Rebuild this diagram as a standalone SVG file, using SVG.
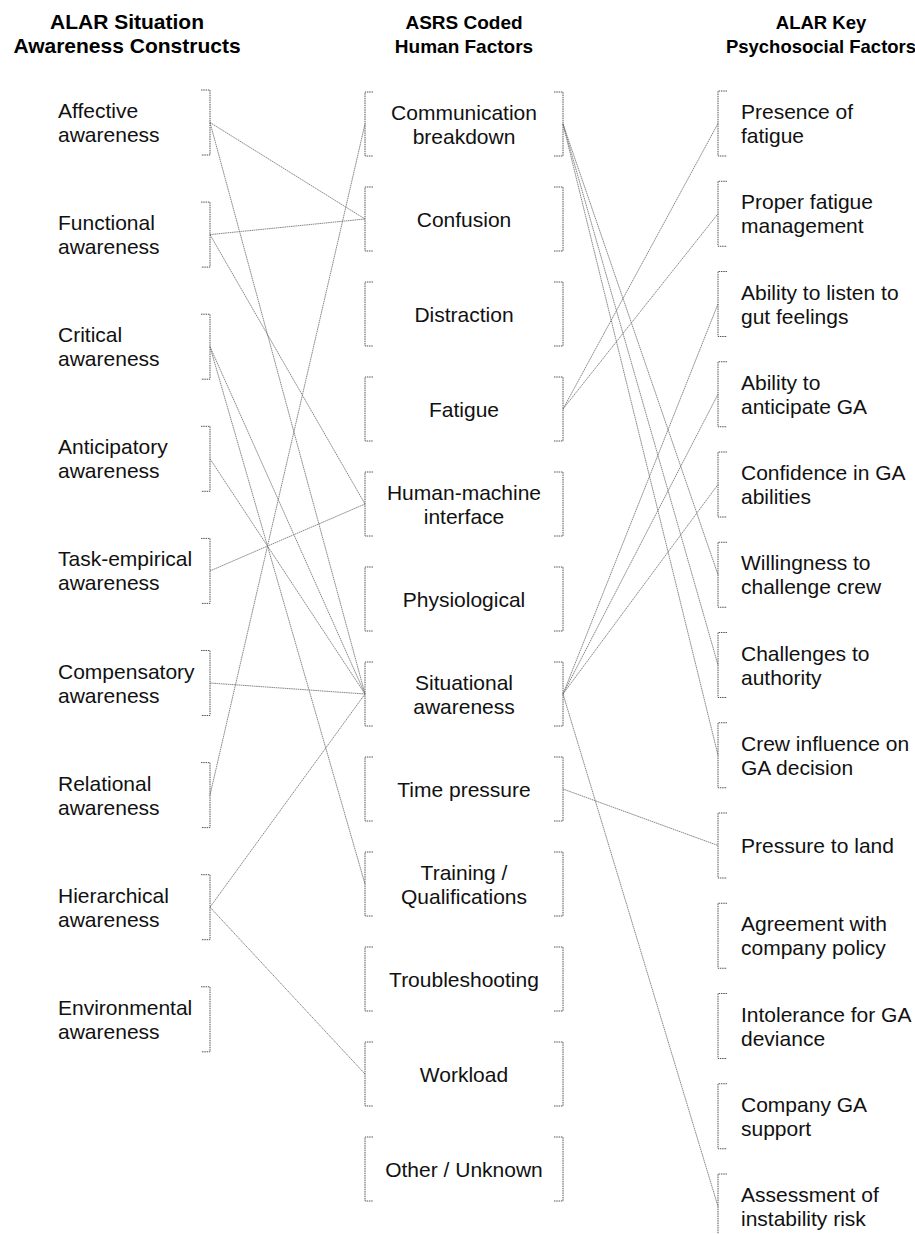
<svg xmlns="http://www.w3.org/2000/svg" width="915" height="1234" viewBox="0 0 915 1234">
<style>
  .hd{font-family:"Liberation Sans",Arial,sans-serif;font-weight:bold;fill:#000;text-anchor:middle}
  .t{font-family:"Liberation Sans",Arial,sans-serif;font-size:21px;fill:#111}
  .c{text-anchor:middle}
  .br{fill:none;stroke:#555;stroke-width:1;stroke-dasharray:1.5 0.8}
  .cn{fill:none;stroke:#7a7a7a;stroke-width:0.9;stroke-dasharray:1.6 0.6}
</style>
<rect width="915" height="1234" fill="#fff"/>
<g id="headers">
  <text class="hd" x="127" y="28.7" font-size="21">ALAR Situation</text>
  <text class="hd" x="127" y="53.3" font-size="21">Awareness Constructs</text>
  <text class="hd" x="464" y="28.7" font-size="19">ASRS Coded</text>
  <text class="hd" x="464" y="53.3" font-size="19">Human Factors</text>
  <text class="hd" x="821" y="28.7" font-size="18.5">ALAR Key</text>
  <text class="hd" x="821" y="53.3" font-size="18.5">Psychosocial Factors</text>
</g>
<g id="connectors">
  <line class="cn" x1="210" y1="122.5" x2="365" y2="219"/>
  <line class="cn" x1="210" y1="122.5" x2="365" y2="694"/>
  <line class="cn" x1="210" y1="234.6" x2="365" y2="219"/>
  <line class="cn" x1="210" y1="234.6" x2="365" y2="504"/>
  <line class="cn" x1="210" y1="346.7" x2="365" y2="694"/>
  <line class="cn" x1="210" y1="346.7" x2="365" y2="884"/>
  <line class="cn" x1="210" y1="458.8" x2="365" y2="694"/>
  <line class="cn" x1="210" y1="570.9" x2="365" y2="504"/>
  <line class="cn" x1="210" y1="683" x2="365" y2="694"/>
  <line class="cn" x1="210" y1="795.1" x2="365" y2="124"/>
  <line class="cn" x1="210" y1="907.2" x2="365" y2="694"/>
  <line class="cn" x1="210" y1="907.2" x2="365" y2="1074"/>
  <line class="cn" x1="563" y1="124" x2="718" y2="574.75"/>
  <line class="cn" x1="563" y1="124" x2="718" y2="665"/>
  <line class="cn" x1="563" y1="124" x2="718" y2="755.25"/>
  <line class="cn" x1="563" y1="409" x2="718" y2="123.5"/>
  <line class="cn" x1="563" y1="409" x2="718" y2="213.75"/>
  <line class="cn" x1="563" y1="694" x2="718" y2="304"/>
  <line class="cn" x1="563" y1="694" x2="718" y2="394.25"/>
  <line class="cn" x1="563" y1="694" x2="718" y2="484.5"/>
  <line class="cn" x1="563" y1="694" x2="718" y2="1206.5"/>
  <line class="cn" x1="563" y1="789" x2="718" y2="845.5"/>
</g>
<g id="left-affective"><path class="br" d="M201 90 H210 V155 H201"/><text class="t" x="58" y="118">Affective</text><text class="t" x="58" y="142">awareness</text></g>
<g id="left-functional"><path class="br" d="M201 202.1 H210 V267.1 H201"/><text class="t" x="58" y="230.1">Functional</text><text class="t" x="58" y="254.1">awareness</text></g>
<g id="left-critical"><path class="br" d="M201 314.2 H210 V379.2 H201"/><text class="t" x="58" y="342.2">Critical</text><text class="t" x="58" y="366.2">awareness</text></g>
<g id="left-anticipatory"><path class="br" d="M201 426.3 H210 V491.3 H201"/><text class="t" x="58" y="454.3">Anticipatory</text><text class="t" x="58" y="478.3">awareness</text></g>
<g id="left-task-empirical"><path class="br" d="M201 538.4 H210 V603.4 H201"/><text class="t" x="58" y="566.4">Task-empirical</text><text class="t" x="58" y="590.4">awareness</text></g>
<g id="left-compensatory"><path class="br" d="M201 650.5 H210 V715.5 H201"/><text class="t" x="58" y="678.5">Compensatory</text><text class="t" x="58" y="702.5">awareness</text></g>
<g id="left-relational"><path class="br" d="M201 762.6 H210 V827.6 H201"/><text class="t" x="58" y="790.6">Relational</text><text class="t" x="58" y="814.6">awareness</text></g>
<g id="left-hierarchical"><path class="br" d="M201 874.7 H210 V939.7 H201"/><text class="t" x="58" y="902.7">Hierarchical</text><text class="t" x="58" y="926.7">awareness</text></g>
<g id="left-environmental"><path class="br" d="M201 986.8 H210 V1051.8 H201"/><text class="t" x="58" y="1014.8">Environmental</text><text class="t" x="58" y="1038.8">awareness</text></g>
<g id="mid-communication"><path class="br" d="M373 92 H365 V156 H373 M554 92 H563 V156 H554"/><text class="t c" x="464" y="119.5">Communication</text><text class="t c" x="464" y="143.5">breakdown</text></g>
<g id="mid-confusion"><path class="br" d="M373 187 H365 V251 H373 M554 187 H563 V251 H554"/><text class="t c" x="464" y="226.5">Confusion</text></g>
<g id="mid-distraction"><path class="br" d="M373 282 H365 V346 H373 M554 282 H563 V346 H554"/><text class="t c" x="464" y="321.5">Distraction</text></g>
<g id="mid-fatigue"><path class="br" d="M373 377 H365 V441 H373 M554 377 H563 V441 H554"/><text class="t c" x="464" y="416.5">Fatigue</text></g>
<g id="mid-hmi"><path class="br" d="M373 472 H365 V536 H373 M554 472 H563 V536 H554"/><text class="t c" x="464" y="499.5">Human-machine</text><text class="t c" x="464" y="523.5">interface</text></g>
<g id="mid-physiological"><path class="br" d="M373 567 H365 V631 H373 M554 567 H563 V631 H554"/><text class="t c" x="464" y="606.5">Physiological</text></g>
<g id="mid-situational"><path class="br" d="M373 662 H365 V726 H373 M554 662 H563 V726 H554"/><text class="t c" x="464" y="689.5">Situational</text><text class="t c" x="464" y="713.5">awareness</text></g>
<g id="mid-time-pressure"><path class="br" d="M373 757 H365 V821 H373 M554 757 H563 V821 H554"/><text class="t c" x="464" y="796.5">Time pressure</text></g>
<g id="mid-training"><path class="br" d="M373 852 H365 V916 H373 M554 852 H563 V916 H554"/><text class="t c" x="464" y="879.5">Training /</text><text class="t c" x="464" y="903.5">Qualifications</text></g>
<g id="mid-troubleshooting"><path class="br" d="M373 947 H365 V1011 H373 M554 947 H563 V1011 H554"/><text class="t c" x="464" y="986.5">Troubleshooting</text></g>
<g id="mid-workload"><path class="br" d="M373 1042 H365 V1106 H373 M554 1042 H563 V1106 H554"/><text class="t c" x="464" y="1081.5">Workload</text></g>
<g id="mid-other"><path class="br" d="M373 1137 H365 V1201 H373 M554 1137 H563 V1201 H554"/><text class="t c" x="464" y="1176.5">Other / Unknown</text></g>
<g id="right-presence"><path class="br" d="M727 91 H718 V156 H727"/><text class="t" x="741" y="119">Presence of</text><text class="t" x="741" y="143">fatigue</text></g>
<g id="right-proper"><path class="br" d="M727 181.25 H718 V246.25 H727"/><text class="t" x="741" y="209.25">Proper fatigue</text><text class="t" x="741" y="233.25">management</text></g>
<g id="right-listen"><path class="br" d="M727 271.5 H718 V336.5 H727"/><text class="t" x="741" y="299.5">Ability to listen to</text><text class="t" x="741" y="323.5">gut feelings</text></g>
<g id="right-anticipate"><path class="br" d="M727 361.75 H718 V426.75 H727"/><text class="t" x="741" y="389.75">Ability to</text><text class="t" x="741" y="413.75">anticipate GA</text></g>
<g id="right-confidence"><path class="br" d="M727 452 H718 V517 H727"/><text class="t" x="741" y="480">Confidence in GA</text><text class="t" x="741" y="504">abilities</text></g>
<g id="right-willingness"><path class="br" d="M727 542.25 H718 V607.25 H727"/><text class="t" x="741" y="570.25">Willingness to</text><text class="t" x="741" y="594.25">challenge crew</text></g>
<g id="right-challenges"><path class="br" d="M727 632.5 H718 V697.5 H727"/><text class="t" x="741" y="660.5">Challenges to</text><text class="t" x="741" y="684.5">authority</text></g>
<g id="right-crew"><path class="br" d="M727 722.75 H718 V787.75 H727"/><text class="t" x="741" y="750.75">Crew influence on</text><text class="t" x="741" y="774.75">GA decision</text></g>
<g id="right-pressure"><path class="br" d="M727 813 H718 V878 H727"/><text class="t" x="741" y="853">Pressure to land</text></g>
<g id="right-agreement"><path class="br" d="M727 903.25 H718 V968.25 H727"/><text class="t" x="741" y="931.25">Agreement with</text><text class="t" x="741" y="955.25">company policy</text></g>
<g id="right-intolerance"><path class="br" d="M727 993.5 H718 V1058.5 H727"/><text class="t" x="741" y="1021.5">Intolerance for GA</text><text class="t" x="741" y="1045.5">deviance</text></g>
<g id="right-company"><path class="br" d="M727 1083.75 H718 V1148.75 H727"/><text class="t" x="741" y="1111.75">Company GA</text><text class="t" x="741" y="1135.75">support</text></g>
<g id="right-assessment"><path class="br" d="M727 1174 H718 V1239 H727"/><text class="t" x="741" y="1202">Assessment of</text><text class="t" x="741" y="1226">instability risk</text></g>
</svg>
